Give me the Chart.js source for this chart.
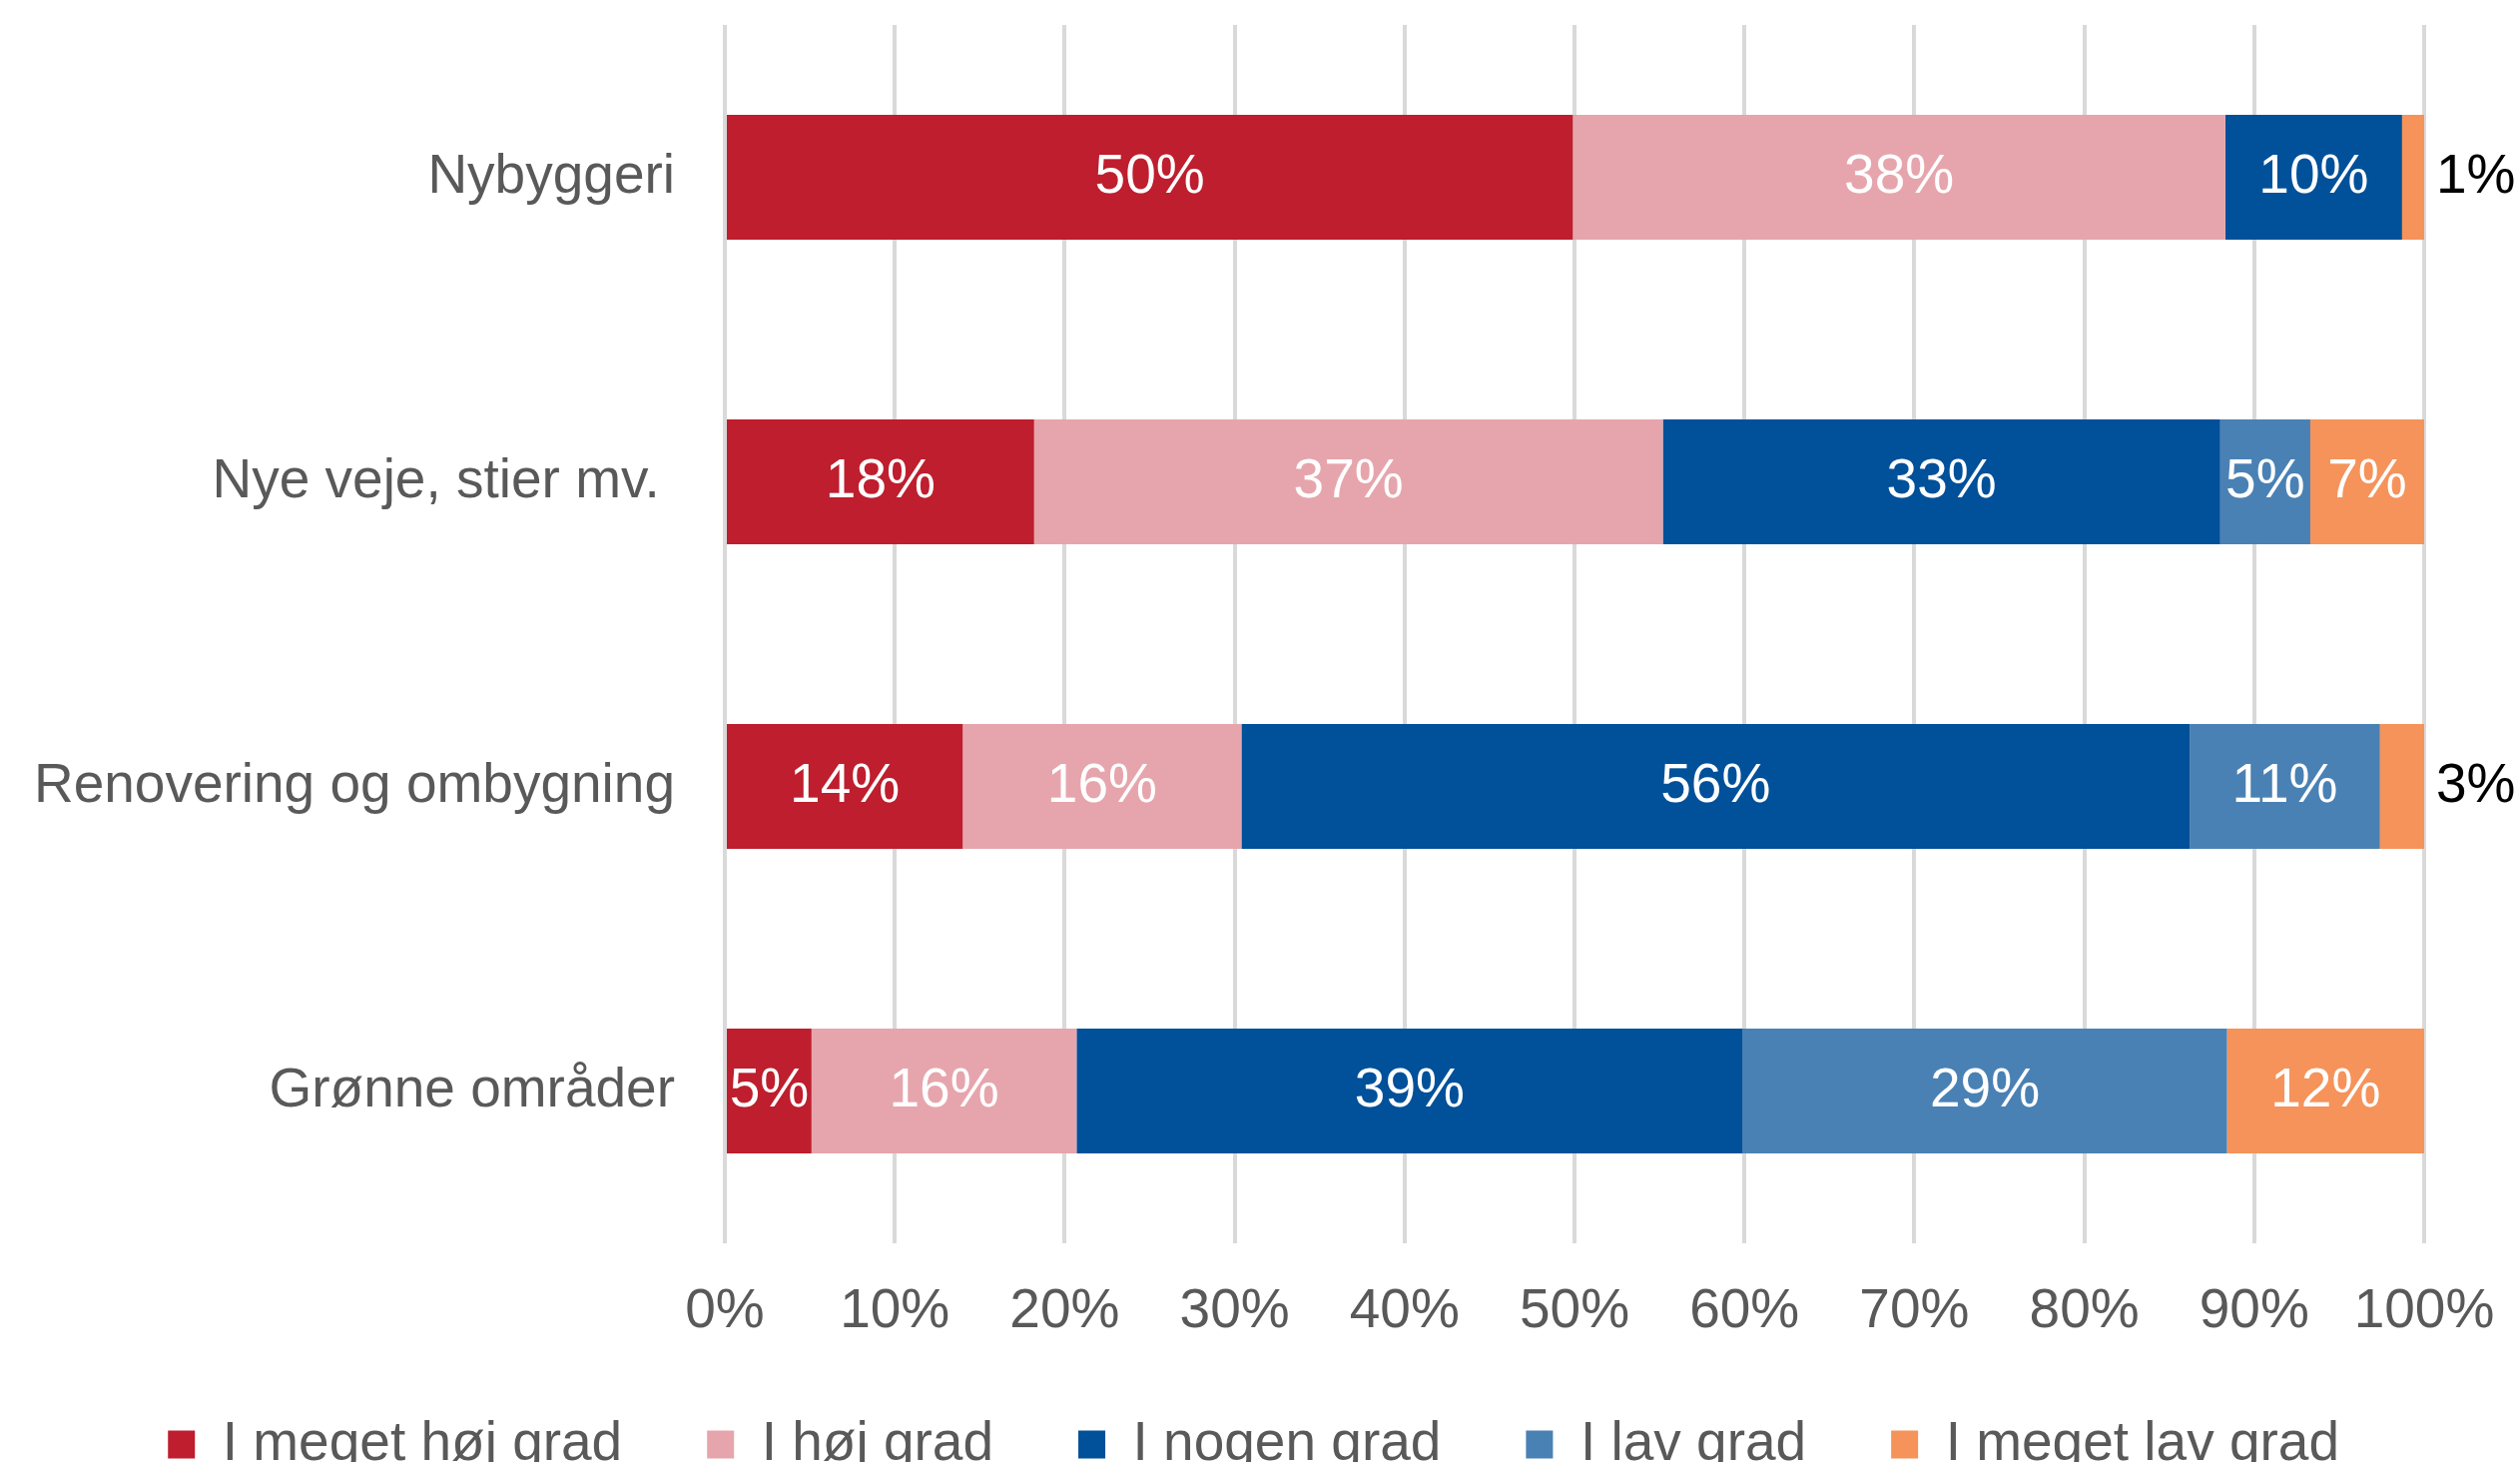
<!DOCTYPE html>
<html>
<head>
<meta charset="utf-8">
<script src="https://cdn.jsdelivr.net/npm/chart.js@4/dist/chart.umd.min.js"></script>
<style>
    html, body { margin: 0; padding: 0; background: #fff; overflow: hidden; }
    #wrap { width: 2524px; height: 1464px; }
</style>
</head>
<body>
<div id="wrap"><canvas id="chart" width="2524" height="1464"></canvas></div>
<script>
// Categories and series (share of answers, %)
const categories = ['Nybyggeri', 'Nye veje, stier mv. ', 'Renovering og ombygning', 'Grønne områder'];
const seriesNames = ['I meget høj grad', 'I høj grad', 'I nogen grad', 'I lav grad', 'I meget lav grad'];
const meGetHoj  = [49.9, 18.2, 14.0, 5.1];
const hoj       = [38.4, 37.0, 16.4, 15.6];
const nogen     = [10.4, 32.8, 55.8, 39.2];
const lav       = [0,    5.3,  11.2, 28.5];
const meGetLav  = [1.3,  6.7,  2.6,  11.6];
const colors = ['#BE1E2D', '#E6A5AC', '#00509A', '#4A81B4', '#F5935A'];
const xTicks = [0, 10, 20, 30, 40, 50, 60, 70, 80, 90, 100];

const FONT = '"Liberation Sans", Arial, sans-serif';
Chart.defaults.font.family = FONT;
Chart.defaults.font.size = 55;
Chart.defaults.color = '#595959';

// value labels: white inside the bar, black right of the bar for small slices
const barLabels = {
    id: 'barLabels',
    afterDatasetsDraw(chart) {
        const ctx = chart.ctx;
        ctx.save();
        ctx.font = '55px ' + FONT;
        ctx.textBaseline = 'middle';
        chart.data.datasets.forEach((ds, i) => {
            const meta = chart.getDatasetMeta(i);
            meta.data.forEach((bar, j) => {
                const v = ds.data[j];
                if (!v) return;
                const txt = Math.round(v) + '%';
                if (v < 4) {
                    ctx.fillStyle = '#000000';
                    ctx.textAlign = 'left';
                    ctx.fillText(txt, bar.x + 12, bar.y);
                } else {
                    ctx.fillStyle = '#ffffff';
                    ctx.textAlign = 'center';
                    ctx.fillText(txt, (bar.x + bar.base) / 2, bar.y);
                }
            });
        });
        ctx.restore();
    }
};

const seriesData = [meGetHoj, hoj, nogen, lav, meGetLav];

new Chart(document.getElementById('chart').getContext('2d'), {
    type: 'bar',
    data: {
        labels: categories,
        datasets: seriesNames.map((name, i) => ({
            label: name,
            data: seriesData[i],
            backgroundColor: colors[i],
            borderWidth: 0,
            barPercentage: 0.41,
            categoryPercentage: 1
        }))
    },
    options: {
        indexAxis: 'y',
        responsive: false,
        animation: false,
        devicePixelRatio: 1,
        layout: { padding: { top: 25, right: 96, bottom: -20, left: 0 } },
        plugins: {
            tooltip: { enabled: false },
            legend: {
                position: 'bottom',
                align: 'end',
                labels: {
                    boxWidth: 27,
                    boxHeight: 28,
                    padding: 85,
                    color: '#595959',
                    font: { size: 55 }
                }
            }
        },
        scales: {
            x: {
                stacked: true,
                min: 0,
                max: 100,
                afterBuildTicks: s => { s.ticks = xTicks.map(v => ({ value: v })); },
                afterFit: s => { s.height = 89; s.paddingLeft = 0; s.paddingRight = 0; },
                grid: { color: '#D9D9D9', lineWidth: 4, drawTicks: false },
                border: { display: false },
                ticks: {
                    padding: 36,
                    color: '#595959',
                    callback: v => v + '%'
                }
            },
            y: {
                stacked: true,
                afterFit: s => { s.width = 726; s.paddingTop = 0; s.paddingBottom = 0; },
                grid: { display: false, drawTicks: false },
                border: { display: false },
                ticks: { padding: 50, color: '#595959' }
            }
        }
    },
    plugins: [barLabels]
});
</script>
</body>
</html>
